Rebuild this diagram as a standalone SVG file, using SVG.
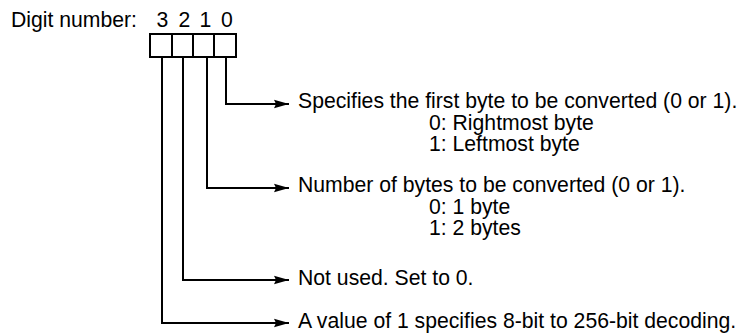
<svg xmlns="http://www.w3.org/2000/svg" width="746" height="333" viewBox="0 0 746 333">
<style>
text{font-family:"Liberation Sans",Arial,sans-serif;font-size:21.2px;fill:#000}
.box{fill:#fff;stroke:#000;stroke-width:2}
.wire{fill:none;stroke:#000;stroke-width:2}
.mid{text-anchor:middle}
</style>
<defs>
<marker id="ah" markerUnits="userSpaceOnUse" markerWidth="16" markerHeight="10" viewBox="0 -5 16 10" refX="15" refY="0" orient="auto">
<path d="M0,-4.3 L15,0 L0,4.3 L2,0 z" fill="#000"/>
</marker>
</defs>
<g id="header">
<text x="11" y="27">Digit number:</text>
<text class="mid" x="162.5" y="27">3</text>
<text class="mid" x="184.5" y="27">2</text>
<text class="mid" x="205.5" y="27">1</text>
<text class="mid" x="227" y="27">0</text>
</g>
<g id="digits">
<rect class="box" x="150" y="34" width="22" height="23"/>
<rect class="box" x="172" y="34" width="21" height="23"/>
<rect class="box" x="193" y="34" width="21" height="23"/>
<rect class="box" x="214" y="34" width="22" height="23"/>
</g>
<g id="connectors">
<path class="wire" d="M226,57 V104 H289" marker-end="url(#ah)"/>
<path class="wire" d="M207,57 V188 H289" marker-end="url(#ah)"/>
<path class="wire" d="M183,57 V280 H289" marker-end="url(#ah)"/>
<path class="wire" d="M162,57 V323 H289" marker-end="url(#ah)"/>
</g>
<g id="label-digit0">
<text x="298" y="108">Specifies the first byte to be converted (0 or 1).</text>
<text x="429" y="129.5">0: Rightmost byte</text>
<text x="429" y="151">1: Leftmost byte</text>
</g>
<g id="label-digit1">
<text x="298" y="192">Number of bytes to be converted (0 or 1).</text>
<text x="429" y="213.5">0: 1 byte</text>
<text x="429" y="235">1: 2 bytes</text>
</g>
<g id="label-digit2">
<text x="298" y="284.5">Not used. Set to 0.</text>
</g>
<g id="label-digit3">
<text x="298" y="327.5">A value of 1 specifies 8-bit to 256-bit decoding.</text>
</g>
</svg>
